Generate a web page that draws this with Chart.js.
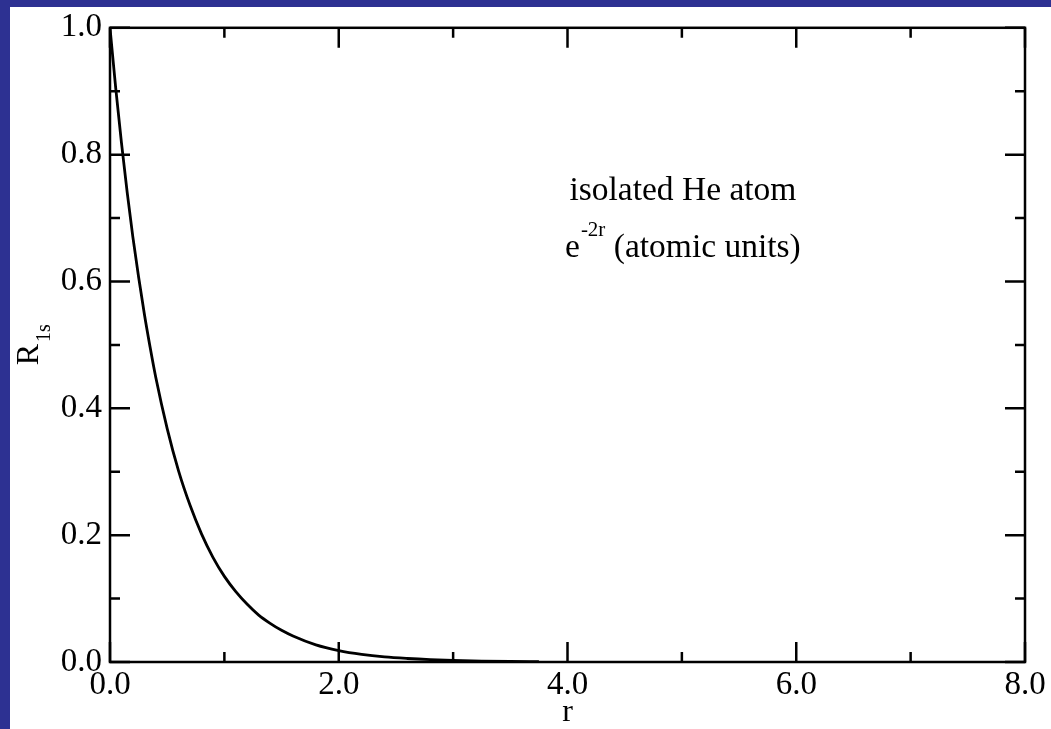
<!DOCTYPE html>
<html>
<head>
<meta charset="utf-8">
<script src="https://cdn.jsdelivr.net/npm/chart.js@4.4.0/dist/chart.umd.min.js"></script>
<style>
  html, body { margin: 0; padding: 0; background: #2d3192; }
</style>
</head>
<body>
<canvas id="graph" width="1051" height="729"></canvas>
<script>
const ctx = document.getElementById('graph').getContext('2d')

// values
const r = [0, 0.05, 0.1, 0.15, 0.2, 0.25, 0.3, 0.35, 0.4, 0.5, 0.6, 0.7, 0.8, 0.9, 1.0,
  1.1, 1.2, 1.3, 1.4, 1.5, 1.6, 1.8, 2.0, 2.2, 2.4, 2.6, 2.8, 3.0, 3.25, 3.5, 3.75]
const R1s = [1.0, 0.905, 0.819, 0.741, 0.67, 0.607, 0.549, 0.497, 0.449, 0.368, 0.301, 0.247, 0.202, 0.165, 0.135,
  0.111, 0.091, 0.074, 0.061, 0.05, 0.041, 0.027, 0.018, 0.012, 0.008, 0.0055, 0.0037, 0.0025, 0.0015, 0.0009, 0.0006]

const xMajor = [0, 2, 4, 6, 8]
const xMinor = [1, 3, 5, 7]
const yMajor = [0, 0.2, 0.4, 0.6, 0.8, 1.0]
const yMinor = [0.1, 0.3, 0.5, 0.7, 0.9]

const NOTE_1 = 'isolated He atom'
const NOTE_BASE = 'e'
const NOTE_SUP = '-2r'
const NOTE_REST = ' (atomic units)'
const NOTE_AT = { x: 5.0, y1: 0.7285, y2: 0.638 }

const SERIF = '"Liberation Serif", "Times New Roman", serif'
const BLUE = '#2d3192'

const frame = {
  id: 'frame',
  beforeDraw(chart) {
    const c = chart.ctx
    c.save()
    c.fillStyle = BLUE
    c.fillRect(0, 0, chart.width, chart.height)
    c.fillStyle = '#fff'
    c.fillRect(10, 7, chart.width - 10, chart.height - 7)
    c.restore()
  },
  afterDraw(chart) {
    const c = chart.ctx
    const { left, right, top, bottom } = chart.chartArea
    const xs = chart.scales.x
    const ys = chart.scales.y
    c.save()
    c.strokeStyle = '#000'
    c.lineWidth = 2.5
    c.strokeRect(left, top, right - left, bottom - top)

    // inward ticks on all four sides
    c.beginPath()
    const xt = (v, len) => {
      const p = xs.getPixelForValue(v)
      c.moveTo(p, bottom); c.lineTo(p, bottom - len)
      c.moveTo(p, top); c.lineTo(p, top + len)
    }
    const yt = (v, len) => {
      const p = ys.getPixelForValue(v)
      c.moveTo(left, p); c.lineTo(left + len, p)
      c.moveTo(right, p); c.lineTo(right - len, p)
    }
    xMajor.forEach(v => xt(v, 20))
    xMinor.forEach(v => xt(v, 10))
    yMajor.forEach(v => yt(v, 20))
    yMinor.forEach(v => yt(v, 10))
    c.stroke()

    // annotation
    c.fillStyle = '#000'
    c.textBaseline = 'alphabetic'
    const cx = xs.getPixelForValue(NOTE_AT.x) + 1
    c.font = '33.5px ' + SERIF
    c.textAlign = 'center'
    c.fillText(NOTE_1, cx, ys.getPixelForValue(NOTE_AT.y1))

    c.textAlign = 'left'
    const b2 = ys.getPixelForValue(NOTE_AT.y2)
    c.font = '33.5px ' + SERIF
    const wE = c.measureText(NOTE_BASE).width
    const wRest = c.measureText(NOTE_REST).width
    c.font = '21px ' + SERIF
    const wSup = c.measureText(NOTE_SUP).width
    let x0 = cx - (wE + 1 + wSup + wRest) / 2
    c.font = '33.5px ' + SERIF
    c.fillText(NOTE_BASE, x0, b2)
    x0 += wE + 1
    c.font = '21px ' + SERIF
    c.fillText(NOTE_SUP, x0, b2 - 21)
    x0 += wSup
    c.font = '33.5px ' + SERIF
    c.fillText(NOTE_REST, x0, b2)

    // y axis title R_1s
    c.translate(38, (top + bottom) / 2)
    c.rotate(-Math.PI / 2)
    c.font = '32px ' + SERIF
    const wR = c.measureText('R').width
    c.fillText('R', -wR + 1, 0)
    c.font = '20px ' + SERIF
    c.fillText('1s', 3, 12)
    c.restore()
  },
}

const tickFont = { family: SERIF, size: 33 }

let graph = new Chart(ctx, {
  type: 'scatter',
  data: {
    datasets: [
      {
        label: 'R1s',
        data: r.map((v, i) => ({ x: v, y: R1s[i] })),
        showLine: true,
        borderColor: '#000',
        borderWidth: 2.8,
        pointRadius: 0,
        cubicInterpolationMode: 'monotone',
        fill: false,
      },
    ],
  },
  options: {
    responsive: false,
    animation: false,
    layout: { padding: { top: 21, right: 26, left: 0, bottom: 0 } },
    plugins: { legend: { display: false }, tooltip: { enabled: false } },
    scales: {
      x: {
        type: 'linear',
        min: 0,
        max: 8,
        afterBuildTicks: s => { s.ticks = xMajor.map(v => ({ value: v })) },
        afterFit: s => { s.height = 67 },
        grid: { display: false, drawTicks: false },
        border: { display: false },
        ticks: {
          font: tickFont,
          color: '#000',
          padding: 4,
          maxRotation: 0,
          autoSkip: false,
          callback: v => v.toFixed(1),
        },
        title: {
          display: true,
          text: 'r',
          color: '#000',
          font: { family: SERIF, size: 32, lineHeight: 1 },
          padding: { top: 0, bottom: 0 },
        },
      },
      y: {
        min: 0,
        max: 1,
        afterBuildTicks: s => { s.ticks = yMajor.map(v => ({ value: v })) },
        afterFit: s => { s.width = 110 },
        grid: { display: false, drawTicks: false },
        border: { display: false },
        ticks: {
          font: tickFont,
          color: '#000',
          padding: 8,
          autoSkip: false,
          callback: v => v.toFixed(1),
        },
      },
    },
  },
  plugins: [frame],
})
</script>
</body>
</html>
